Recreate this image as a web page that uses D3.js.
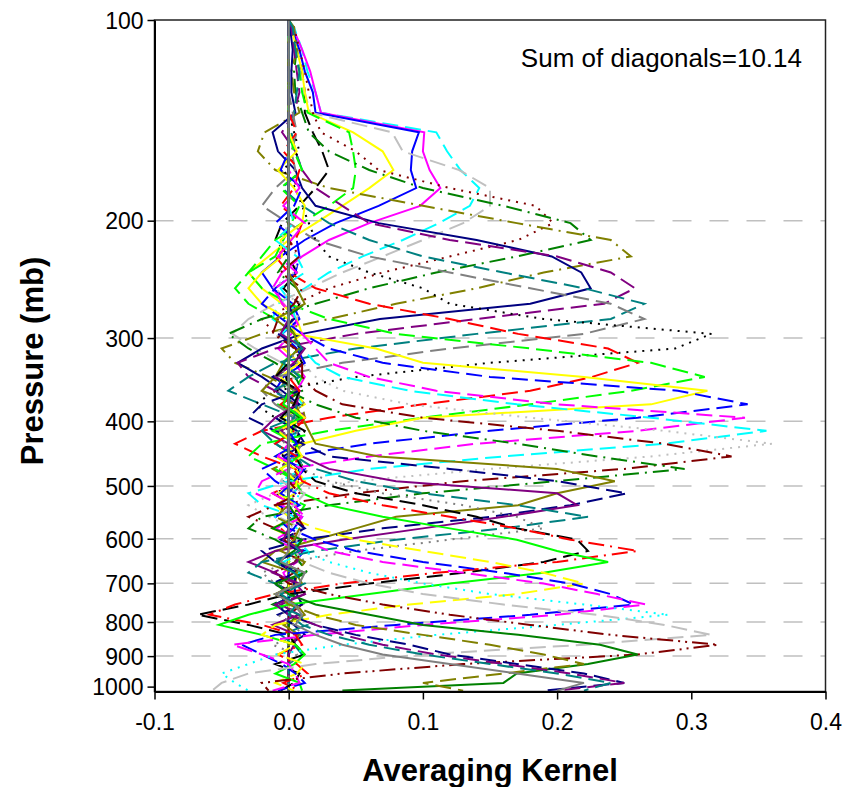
<!DOCTYPE html>
<html>
<head>
<meta charset="utf-8">
<script src="https://cdn.jsdelivr.net/npm/d3@7"></script>
<style>
  body { margin: 0; background: #fff; }
  text { font-family: "Liberation Sans", Arial, sans-serif; fill: #000; }
</style>
</head>
<body>
<div id="chart"></div>
<script>
// retrieval pressure levels (mb)
const levels = [100, 102.6, 110.8, 119.4, 128.4, 137.7, 147.4, 157.4, 167.9, 178.7,
  190.0, 201.7, 213.8, 226.3, 239.2, 252.6, 266.5, 280.9, 295.7, 311.0,
  326.8, 343.1, 359.9, 377.2, 395.0, 413.3, 432.1, 451.5, 471.4, 491.8,
  512.8, 534.3, 556.3, 578.9, 602.0, 625.8, 650.1, 674.9, 700.4, 726.4,
  753.0, 780.2, 808.0, 836.3, 865.3, 894.9, 925.0, 955.8, 987.2, 1013.9];

// first level index of each kernel row (values outside a row are 0)
const kernelStart = [0, 0, 0, 0, 0, 0, 0, 0, 0, 0, 0, 0, 0, 5, 6, 6, 7, 7, 8, 9,
  11, 12, 13, 14, 15, 17, 18, 19, 20, 21, 22, 23, 24, 26, 27, 28, 29, 30, 32, 32,
  33, 34, 35, 36];

// averaging kernel values, one row per kernel
const kernelRows = [
  [0, .003, .006, .01, .012, .012, .018, .025, .03, .02, .008, -.005, -.01, 0, .006, -.004, .008, .003, -.006, .004, .01, -.002],
  [0, .004, .01, .014, .02, .024, .11, .118, .128, .142, .135, .112, .085, .055, .03, .012, -.008, -.012, .004, .008, -.004, -.006, .005, .01, -.004, .006, .002],
  [0, .003, .01, .016, .02, .024, .101, .1, .105, .113, .098, .06, .03, .01, -.005, -.012, -.004, .006, .002, -.008, .004, .012, .006, -.005, .003],
  [0, .002, .008, .012, .018, .02, .097, .092, .091, .095, .067, .035, .012, -.006, -.02, -.012, .003, .008, -.005, .006, .012, -.004, -.01, .004, .008],
  [0, .002, .004, .008, .012, .016, .077, .085, .127, .15, .15, .13, .1, .07, .04, .015, -.01, -.03, -.042, -.025, -.005, .004, -.008, .006, .01, -.006, .003, .007],
  [0, .002, .006, .01, .012, .015, .048, .07, .078, .06, .04, .02, 0, -.015, -.03, -.02, -.005, .006, .01, -.004, .008, -.006, .004, .012, -.004, .002],
  [0, .002, .004, .008, .01, .014, .045, .048, .05, .048, .03, .01, -.01, -.02, -.03, -.04, -.03, -.01, .005, .008, -.005, .01, .004, -.008, .006, .003],
  [0, .004, .008, .012, .015, .018, .024, .05, .067, .12, .184, .197, .171, .12, .07, .03, .005, -.02, -.01, .005, .01, .004, -.012, .006, .008, -.003],
  [0, .002, .006, .004, .005, .01, .015, .03, .06, .1, .16, .21, .225, .17, .11, .06, .02, -.02, -.045, -.03, -.01, .005, .01, -.006, .008, .004, -.01, .005, .012],
  [0, .004, .006, .002, .004, .008, -.018, -.023, -.01, .03, .1, .17, .24, .255, .19, .14, .08, .03, -.02, -.05, -.04, -.015, .005, .01, .012, -.006, .004, .008, -.012, .003],
  [0, .001, .003, .002, .002, .005, -.012, -.008, .005, .01, .02, .067, .14, .196, .218, .225, .18, .068, .01, -.02, -.038, -.02, -.005, .008, -.01, .006, .012, -.004, .008, .002],
  [0, .002, .004, .006, .008, .004, -.005, .005, .01, .02, .04, .06, .12, .2, .24, .258, .235, .14, .05, -.01, -.038, -.03, -.01, .005, .012, -.006, .008, .004, -.008, .006],
  [0, .003, .005, .008, .006, .004, .002, .005, .01, -.005, .01, .03, .06, .1, .16, .22, .265, .24, .14, .05, -.01, -.03, -.045, -.02, .005, .008, -.01, .006, .012, -.004, .005],
  [.003, .006, .002, .005, -.01, -.02, 0, .02, .06, .12, .18, .24, .265, .22, .12, .04, -.01, -.02, -.01, .005, -.008, .01, .004, -.006, .012, .003],
  [.004, .008, -.004, .005, .01, .015, .02, .03, .06, .1, .12, .19, .315, .288, .15, .05, -.01, -.025, -.01, .005, .01, -.006, .004, .008, -.01, .006],
  [.006, -.004, .008, .004, -.006, .01, .005, -.01, 0, .02, .06, .12, .171, .238, .26, .226, .18, .1, .03, -.02, -.04, -.02, .005, .008, -.012, .004, .01, -.006, .003],
  [.004, .01, -.006, .008, .002, -.004, -.01, -.03, -.02, 0, .03, .08, .18, .27, .31, .255, .18, .1, .03, -.02, -.03, -.01, .005, -.008, .012, .006, -.01, .004, .008],
  [.006, -.008, .004, .012, .01, -.006, -.005, -.02, -.03, -.02, 0, .005, .065, .1, .22, .312, .27, .1, .05, .01, -.01, .005, .012, -.008, .006, .004, -.012, .006],
  [-.006, .01, .004, -.01, .006, .008, .005, -.01, -.02, -.005, .01, .03, .07, .15, .29, .342, .26, .15, .06, 0, -.02, -.01, .005, -.008, .01, .004, -.006, .012, .004],
  [.008, -.004, .012, .002, -.008, .006, -.01, -.005, .005, .01, .02, .03, .06, .11, .2, .34, .26, .14, .06, 0, -.02, -.025, -.005, .01, .004, -.01, .008, .006, -.004],
  [.004, -.01, .006, .012, -.006, .002, .005, -.005, .01, .02, .04, .09, .17, .27, .356, .28, .16, .06, 0, -.03, -.02, .005, -.01, .006, .014, -.004, .008, .002],
  [-.006, .008, .004, -.012, .01, .006, -.01, 0, .01, .02, .04, .09, .18, .28, .36, .27, .15, .05, -.01, -.03, -.015, .005, .01, -.006, .008, .004, -.01, .006],
  [.008, -.006, .01, .004, -.008, -.012, .005, .01, .01, .02, .04, .1, .2, .28, .33, .25, .13, .05, -.01, -.03, -.01, .005, -.006, .012, .004, -.01, .006, .01],
  [-.008, .006, .012, -.004, .004, .01, .005, -.01, 0, .02, .05, .1, .17, .23, .295, .2, .1, .03, -.02, -.03, -.01, .005, .008, .014, -.006, .004, -.012, .006],
  [.006, .012, -.01, .004, .008, -.004, -.01, -.02, .005, .01, .015, .02, .067, .2, .243, .2, .171, .08, .05, .02, -.01, -.02, .005, .01, -.01, .006, .012, -.004, .008],
  [.004, -.008, .01, .006, -.012, .008, -.02, -.03, -.01, .01, .03, .12, .2, .252, .21, .15, .07, .01, -.02, -.01, .005, -.012, .006, .01, -.008, .004, .012],
  [-.006, .012, .004, -.01, .008, .006, -.01, -.02, 0, .01, .03, .08, .2, .215, .16, .1, .04, -.01, -.03, -.01, .005, .012, -.006, .008, -.012, .006, .004],
  [.01, -.004, .008, -.012, .006, .004, -.02, -.01, .005, .02, .05, .1, .17, .223, .16, .08, .02, -.02, -.03, -.01, .005, -.01, .008, .014, -.006, .004, .01],
  [.006, -.01, .004, .012, -.006, .008, -.005, .005, .01, .03, .07, .13, .17, .19, .12, .05, 0, -.02, -.01, .005, .012, -.008, .004, .01, -.012, .006],
  [-.01, .008, .004, -.006, .012, .006, .005, .01, .02, .05, .1, .14, .17, .215, .223, .19, .13, .06, 0, -.03, -.068, -.03, 0, .005, .012, -.01, .008, .004, -.006],
  [.008, -.006, .012, .004, -.01, .006, .005, .01, .03, .07, .12, .17, .21, .26, .2, .11, .04, -.01, -.04, -.059, -.02, .005, .01, -.008, .006, .014, -.004, .008],
  [-.004, .01, -.012, .006, .008, -.006, .005, .01, .03, .07, .12, .17, .2, .238, .19, .12, .06, 0, -.03, -.052, -.02, .005, .012, .004, -.01, .008, .01],
  [.012, -.008, .004, .01, -.006, .006, .005, -.01, 0, .02, .05, .1, .15, .19, .22, .17, .09, .03, -.01, -.02, .005, -.008, .012, .006, -.01, .004],
  [.006, -.01, .012, .004, -.006, .008, -.01, 0, .02, .05, .1, .16, .21, .24, .257, .18, .08, -.01, -.035, -.02, -.005, .005, .012, -.008],
  [-.008, .01, .006, -.012, .004, .012, -.01, .01, .03, .07, .13, .19, .23, .266, .2, .1, .02, -.042, -.02, 0, .005, .008, -.012],
  [.01, -.006, .008, .004, -.01, .006, .005, .01, .03, .06, .1, .15, .22, .283, .2, .11, .04, -.01, -.03, -.05, -.04, -.03],
  [-.006, .012, .004, -.008, .01, .006, .005, .01, .03, .06, .1, .16, .23, .28, .315, .22, .1, .02, -.03, -.05, -.057],
  [.008, -.01, .006, .012, -.004, .01, .005, -.01, 0, .03, .07, .12, .18, .24, .32, .26, .13, .04, -.02, -.015],
  [.006, -.012, .01, .004, -.008, .012, -.01, 0, .02, .06, .1, .171, .232, .26, .223, .17, .16, .04],
  [-.01, .008, .004, -.006, .012, .006, .005, -.01, 0, .02, .05, .1, .15, .19, .22, .16, .1, .13],
  [.012, -.006, .008, -.01, .006, .004, .005, -.01, 0, .02, .05, .09, .12, .17, .22, .25, .19],
  [-.004, .01, .006, -.012, .008, .012, -.01, 0, .02, .04, .07, .11, .16, .21, .25, .2],
  [.008, -.01, .004, .012, -.006, .006, 0, .01, .03, .06, .1, .15, .2, .24, .22],
  [-.006, .012, .008, -.01, .004, .01, .005, .02, .04, .07, .12, .17, .22, .2]
];

const pressureTicks = [100, 200, 300, 400, 500, 600, 700, 800, 900, 1000];
const gridPressures = [200, 300, 400, 500, 600, 700, 800, 900];
const kernelTicks = [-0.1, 0.0, 0.1, 0.2, 0.3, 0.4];
const sumOfDiagonals = "10.14";

// styling per kernel
const palette = {
  black: "#000000", red: "#ff0000", lime: "#00ff00", blue: "#0000ff", yellow: "#ffff00",
  magenta: "#ff00ff", cyan: "#00ffff", maroon: "#800000", green: "#008000", navy: "#000080",
  olive: "#808000", purple: "#800080", teal: "#008080", gray: "#808080", silver: "#c0c0c0"
};
const dashes = {
  solid: null, dash: "16,7", dot: "2,6", dashdot: "16,6,2,6", dashdotdot: "16,5,2,5,2,5"
};
const kernelColor = ["black", "cyan", "magenta", "blue", "silver", "yellow", "lime", "maroon",
  "green", "olive", "navy", "purple", "teal", "gray", "black", "red", "lime", "yellow", "blue",
  "magenta", "cyan", "silver", "maroon", "green", "olive", "navy", "purple", "teal", "gray",
  "black", "red", "lime", "yellow", "blue", "magenta", "cyan", "silver", "maroon", "green",
  "olive", "navy", "purple", "teal", "gray"];
const kernelDash = ["dash", "dash", "solid", "solid", "dash", "solid", "dash", "dot",
  "dashdot", "dashdot", "solid", "dash", "dash", "dash", "dot", "dash", "dash", "solid", "dash",
  "dash", "dash", "dot", "dashdot", "dashdot", "solid", "dash", "solid", "dash", "dot",
  "dash", "dashdot", "solid", "dash", "dash", "dash", "dot", "dash", "dashdotdot", "solid",
  "dash", "dash", "dash", "dash", "solid"];

const W = 848, H = 787;
const plot = {left: 154.5, right: 825.5, top: 20, bottom: 691.5};

const svg = d3.select("#chart").append("svg")
  .attr("width", W)
  .attr("height", H);

const x = d3.scaleLinear()
  .domain([-0.1, 0.4])
  .range([plot.left, plot.right]);
const y = d3.scaleLog()
  .domain([100, 1017])
  .range([plot.top, plot.bottom]);

svg.append("clipPath").attr("id", "plotClip")
  .append("rect")
  .attr("x", plot.left).attr("y", plot.top)
  .attr("width", plot.right - plot.left).attr("height", plot.bottom - plot.top);

// gridlines
svg.append("g")
  .selectAll("line")
  .data(gridPressures)
  .join("line")
  .attr("x1", plot.left).attr("x2", plot.right)
  .attr("y1", d => y(d)).attr("y2", d => y(d))
  .attr("stroke", "#c0c0c0")
  .attr("stroke-width", 1.5)
  .attr("stroke-dasharray", "19,18");

// kernel lines
const series = kernelRows.map((row, k) => levels.map((p, i) => {
  const j = i - kernelStart[k];
  return {p: p, v: (j >= 0 && j < row.length) ? row[j] : 0};
}));

const line = d3.line()
  .x(d => x(d.v))
  .y(d => y(d.p));

svg.append("g")
  .attr("clip-path", "url(#plotClip)")
  .selectAll("path")
  .data(series)
  .join("path")
  .attr("d", line)
  .attr("fill", "none")
  .attr("stroke", (d, k) => palette[kernelColor[k]])
  .attr("stroke-width", 2)
  .attr("stroke-dasharray", (d, k) => dashes[kernelDash[k]]);

// frame
svg.append("rect")
  .attr("x", plot.left).attr("y", plot.top)
  .attr("width", plot.right - plot.left).attr("height", plot.bottom - plot.top)
  .attr("fill", "none")
  .attr("stroke", "#222")
  .attr("stroke-width", 1.5);

// axes
const yAxis = svg.append("g")
  .attr("transform", `translate(${plot.left},0)`)
  .call(d3.axisLeft(y).tickValues(pressureTicks).tickFormat(d3.format("d")).tickSize(7).tickSizeOuter(0));
const xAxis = svg.append("g")
  .attr("transform", `translate(0,${plot.bottom})`)
  .call(d3.axisBottom(x).tickValues(kernelTicks).tickFormat(d => d.toFixed(1)).tickSize(8).tickSizeOuter(0));

[yAxis, xAxis].forEach(g => {
  g.select(".domain").attr("stroke", "#000").attr("stroke-width", 2);
  g.selectAll(".tick line").attr("stroke", "#000").attr("stroke-width", 1.5);
  g.selectAll(".tick text").style("font-size", "23px").attr("fill", "#000");
});
yAxis.selectAll(".tick text").attr("x", -11).attr("dy", "0.36em");
xAxis.selectAll(".tick text").attr("y", 22);

// axis titles
svg.append("text")
  .attr("x", (plot.left + plot.right) / 2)
  .attr("y", 781)
  .attr("text-anchor", "middle")
  .style("font-size", "31px")
  .style("font-weight", "bold")
  .text("Averaging Kernel");
svg.append("text")
  .attr("transform", `translate(43,361) rotate(-90)`)
  .attr("text-anchor", "middle")
  .style("font-size", "31px")
  .style("font-weight", "bold")
  .text("Pressure (mb)");

// annotation
svg.append("text")
  .attr("x", 802)
  .attr("y", 67)
  .attr("text-anchor", "end")
  .style("font-size", "26px")
  .text("Sum of diagonals=" + sumOfDiagonals);
</script>
</body>
</html>
